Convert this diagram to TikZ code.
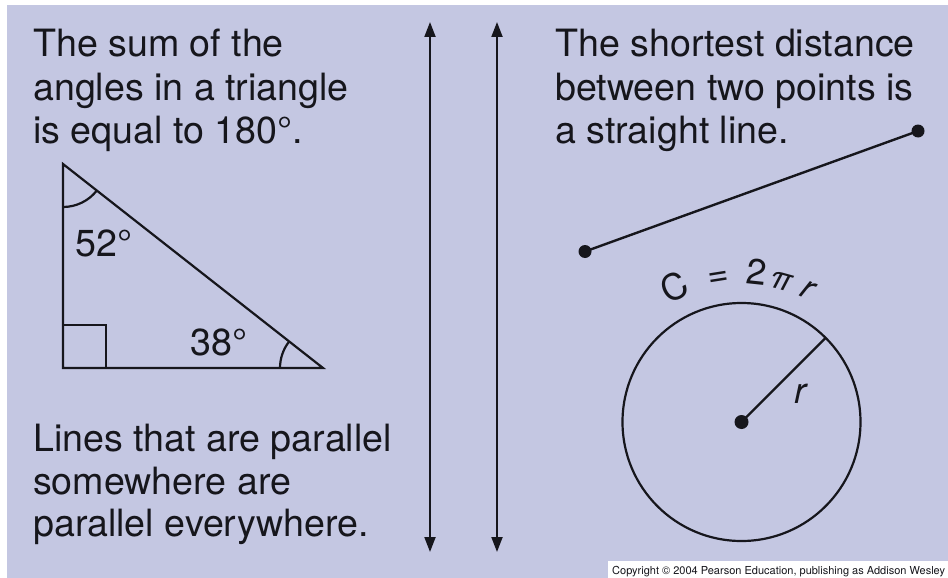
\documentclass[tikz,border=0pt]{standalone}
\usepackage{fontspec}
\setmainfont{TeX Gyre Heros}
\usetikzlibrary{arrows.meta,calc}
\definecolor{bgl}{RGB}{196,199,226}
\definecolor{ink}{RGB}{22,22,28}
\tikzset{
  txt/.style={anchor=base west, inner sep=0pt, text=ink, font=\fontsize{37.6}{43}\selectfont},
  lbl/.style={anchor=base west, inner sep=0pt, text=ink, font=\fontsize{37.6}{43}\selectfont},
  ch/.style={anchor=base, inner sep=0pt, text=ink, font=\fontsize{36}{40}\selectfont},
  stroke/.style={draw=ink, line width=2.2pt, line join=miter},
  dbl/.style={draw=ink, line width=2pt, {Triangle[length=15pt,width=11pt]}-{Triangle[length=15pt,width=11pt]}},
  dotn/.style={circle, fill=ink, inner sep=0pt, minimum size=13pt}
}
\begin{document}
\begin{tikzpicture}[x=1pt,y=-1pt]
\useasboundingbox (0,0) rectangle (948,578);
\fill[white] (0,0) rectangle (948,578);
\fill[bgl] (7,5) rectangle (948,578);
\fill[white] (608,561) rectangle (948,578);
% left column text
\node[txt] (t1) at (33,57) {The sum of the};
\node[txt] (t2) at (33,100) {angles in a triangle};
\node[txt] (t3) at (33,143) {is equal to 180°.};
\node[txt] (b1) at (33,451) {Lines that are parallel};
\node[txt] (b2) at (33,494) {somewhere are};
\node[txt] (b3) at (33,536) {parallel everywhere.};
% right column text
\node[txt] (r1) at (555,57) {The shortest distance};
\node[txt] (r2) at (555,100) {between two points is};
\node[txt] (r3) at (555,143) {a straight line.};
% triangle
\coordinate (A) at (63,164);
\coordinate (B) at (63,368);
\coordinate (C) at (323,368);
\draw[stroke] (A) -- (B) -- (C) -- cycle;
\draw[stroke] (63,325) -- (106,325) -- (106,368);
\draw[stroke] (A) ++(90:43) arc (90:38.1:43);
\draw[stroke] (C) ++(180:43) arc (180:218.1:43);
\node[lbl] (a52) at (75,256) {52°};
\node[lbl] (a38) at (190,355) {38°};
% parallel arrows
\coordinate (p1t) at (430,22);
\coordinate (p1b) at (430,552);
\coordinate (p2t) at (497,22);
\coordinate (p2b) at (497,552);
\draw[dbl] (p1t) -- (p1b);
\draw[dbl] (p2t) -- (p2b);
% straight line
\node[dotn] (s1) at (585,251.5) {};
\node[dotn] (s2) at (918,131) {};
\draw[ink, line width=2.4pt] (s1.center) -- (s2.center);
% circle
\node[dotn, minimum size=14pt] (c0) at (741.5,422) {};
\draw[stroke] (c0.center) circle (119);
\coordinate (rim) at ($(c0.center)+(-45:119)$);
\draw[stroke] (c0.center) -- (rim);
\node[ch, font=\fontsize{36}{40}\selectfont\itshape] (rl) at (800,403) {r};
% C = 2 pi r along arc
\node[ch, rotate=26.5] (k1) at ($(c0.center)+(243.5:138)$) {C};
\node[ch, rotate=9] (k2) at ($(c0.center)+(261:138)$) {=};
\node[ch, rotate=-6] (k3) at ($(c0.center)+(276:138)$) {2};
\node[ch, rotate=-15.5, font=\fontsize{32}{40}\selectfont\itshape] (k4) at ($(c0.center)+(285.5:138)$) {π};
\node[ch, rotate=-26.5, font=\fontsize{34}{40}\selectfont\itshape] (k5) at ($(c0.center)+(296.5:138)$) {r};
% copyright
\node[anchor=base west, inner sep=0pt, text=ink, font=\fontsize{11}{12}\selectfont] (cp) at (612,574) {Copyright © 2004 Pearson Education, publishing as Addison Wesley};
\end{tikzpicture}
\end{document}
